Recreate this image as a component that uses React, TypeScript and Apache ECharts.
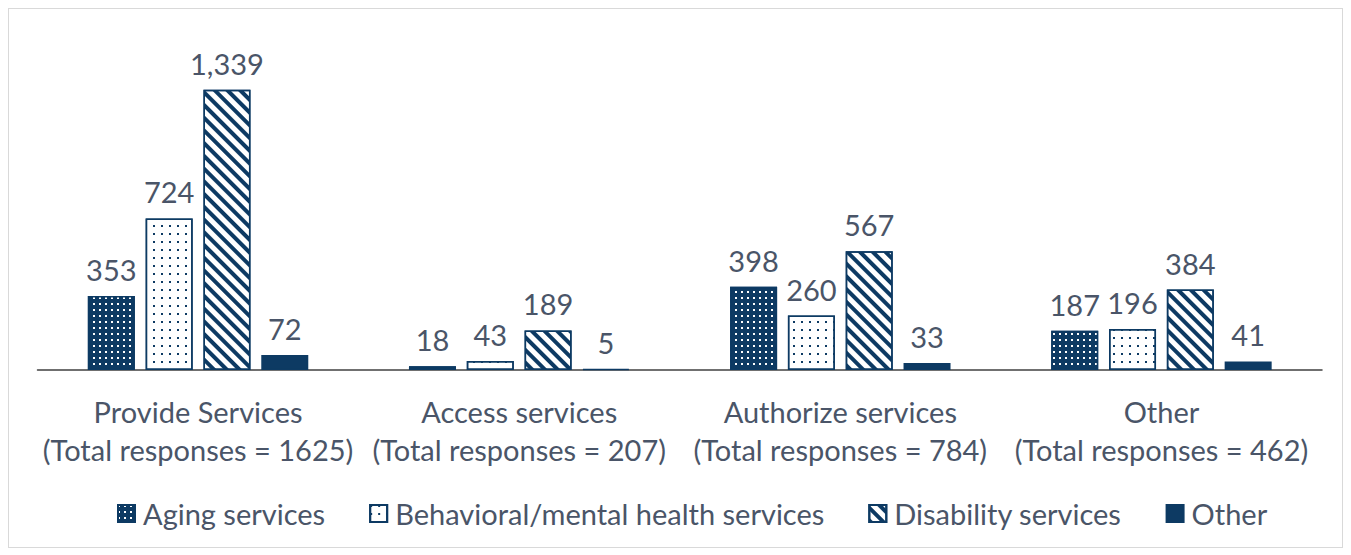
import React, { useEffect, useRef } from "react";
import * as echarts from "echarts";

const categories = [
  "Provide Services\n(Total responses = 1625)",
  "Access services\n(Total responses = 207)",
  "Authorize services\n(Total responses = 784)",
  "Other\n(Total responses = 462)",
];
const seriesNames = ["Aging services", "Behavioral/mental health services", "Disability services", "Other"];
const aging = [353, 18, 398, 187];
const behavioral = [724, 43, 260, 196];
const disability = [1339, 189, 567, 384];
const other = [72, 5, 33, 41];

const NAVY = "#0d3a63";
const TEXT = "#4a5568";
const FONT = "Lato, 'Open Sans', sans-serif";
const FS = 29;

export default function App() {
  const ref = useRef<HTMLDivElement>(null);
  useEffect(() => {
    if (!ref.current) return;
    const chart = echarts.init(ref.current, undefined, { renderer: "svg" });
    const decals: any[] = [
      {
        symbol: "rect",
        symbolSize: 1,
        color: "#ffffff",
        backgroundColor: NAVY,
        dashArrayX: [2, 3.5],
        dashArrayY: [2, 3.5],
        rotation: 0,
      },
      {
        symbol: "rect",
        symbolSize: 1,
        color: NAVY,
        backgroundColor: "#ffffff",
        dashArrayX: [2, 5.5],
        dashArrayY: [2, 5.5],
        rotation: 0,
      },
      {
        symbol: "rect",
        symbolSize: 1,
        color: NAVY,
        backgroundColor: "#ffffff",
        dashArrayX: [1, 0],
        dashArrayY: [4, 5],
        rotation: Math.PI / 4,
      },
      null,
    ];
    const dataSets = [aging, behavioral, disability, other];
    const fills = [NAVY, "#ffffff", "#ffffff", NAVY];
    chart.setOption({
      animation: false,
      textStyle: { fontFamily: FONT },
      grid: { left: 28.5, right: 20, top: 26, bottom: 177, containLabel: false },
      legend: {
        bottom: 14,
        left: 103,
        itemWidth: 17,
        itemHeight: 17,
        itemGap: 44,
        icon: "rect",
        textStyle: { fontSize: FS, color: TEXT, fontFamily: FONT, padding: [0, 0, 0, 3] },
        data: seriesNames,
      },
      xAxis: {
        type: "category",
        data: categories,
        axisTick: { show: false },
        axisLine: { lineStyle: { color: "#404040", width: 1.5 } },
        axisLabel: { fontSize: FS, color: TEXT, lineHeight: 38, margin: 22, interval: 0, fontFamily: FONT },
      },
      yAxis: { type: "value", min: 0, max: 1600, show: false, splitLine: { show: false } },
      series: dataSets.map((d, i) => ({
        name: seriesNames[i],
        type: "bar",
        data: d,
        barWidth: 47,
        barGap: "23%",
        itemStyle: {
          color: fills[i],
          borderColor: NAVY,
          borderWidth: 1.5,
          decal: decals[i] || undefined,
        },
        label: {
          show: true,
          position: "top",
          distance: 12,
          fontSize: FS,
          color: TEXT,
          fontFamily: FONT,
          formatter: (p: any) => Number(p.value).toLocaleString("en-US"),
        },
      })),
    });
    return () => chart.dispose();
  }, []);
  return (
    <div
      style={{
        width: 1335,
        height: 540,
        border: "1px solid #d9d9d9",
        boxSizing: "border-box",
        background: "#fff",
      }}
    >
      <div ref={ref} style={{ width: 1333, height: 538 }} />
    </div>
  );
}
